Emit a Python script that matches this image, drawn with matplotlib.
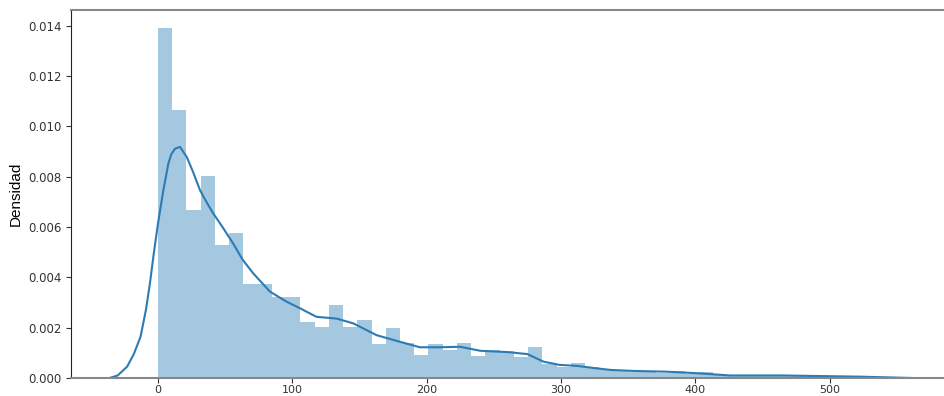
import numpy as np
import matplotlib
matplotlib.use('Agg')
import matplotlib.pyplot as plt

# histogram (density): 50 bins from 0 to 530
hist_start = 0
hist_end = 530
bar_heights = [0.01392, 0.01066, 0.00667, 0.00802, 0.00527, 0.00577, 0.00373, 0.00373,
               0.00323, 0.00323, 0.00223, 0.00204, 0.00290, 0.00204, 0.00230, 0.00135,
               0.00200, 0.00140, 0.00093, 0.00134, 0.00111, 0.00138, 0.00087, 0.00111,
               0.00108, 0.00085, 0.00124, 0.00054, 0.00045, 0.00060, 0.00042, 0.00030,
               0.00026, 0.00022, 0.00022, 0.00020, 0.00028, 0.00015, 0.00024, 0.00010,
               0.00008, 0.00008, 0.00006, 0.00008, 0.00006, 0.00006, 0.00008, 0.00004,
               0.00004, 0.00004]

# kde curve points
kde_x = [-36, -30, -23, -18, -13, -9, -6, -3, 0, 2, 4, 7.7, 10, 12.7, 16.4, 21.4, 26,
         31.3, 36, 41.2, 48, 56, 63, 71, 83.4, 95.8, 105.7, 118, 133, 145.4, 162.8,
         180, 195, 210, 225, 240, 260, 275, 287, 299, 312, 327, 337, 354, 379, 401,
         426, 465, 525, 561]
kde_y = [0, 0.0001, 0.00045, 0.00095, 0.00164, 0.0027, 0.00376, 0.0050, 0.00614,
         0.0068, 0.00746, 0.00852, 0.0089, 0.00911, 0.00918, 0.00878, 0.0082,
         0.00746, 0.0070, 0.00653, 0.0060, 0.00534, 0.0047, 0.00415, 0.00343,
         0.00303, 0.00277, 0.00243, 0.00236, 0.00217, 0.0017, 0.00144, 0.00122,
         0.00122, 0.00124, 0.00108, 0.00103, 0.00095, 0.00065, 0.00052, 0.00048,
         0.00038, 0.00032, 0.00028, 0.00025, 0.00019, 0.0001, 0.0001, 0.00005, 0]

edges = np.linspace(hist_start, hist_end, len(bar_heights) + 1)

fig = plt.figure(figsize=(9.45, 3.96), dpi=100)
ax = fig.add_axes([0.0751, 0.0455, 0.9249, 0.9305])

ax.bar(edges[:-1], bar_heights, width=np.diff(edges), align='edge',
       color='#1f77b4', alpha=0.4, linewidth=0)
ax.plot(kde_x, kde_y, color='#2c7bb3', lw=1.5, solid_joinstyle='round')

ax.set_xlim(-64.8, 586)
ax.set_ylim(0, 0.01464)
ax.set_xticks([0, 100, 200, 300, 400, 500])
ax.set_yticks(np.arange(0, 0.0141, 0.002))
ax.yaxis.set_major_formatter(matplotlib.ticker.FormatStrFormatter('%.3f'))
ax.tick_params(labelsize=8.5, length=3.5, width=0.8, colors='#333333', pad=3)
ax.tick_params(axis='x', pad=1.5, labelsize=8)

ax.set_ylabel('Densidad', fontsize=11, family=['Liberation Sans', 'DejaVu Sans'],
              labelpad=4)

ax.spines['right'].set_visible(False)
ax.spines['left'].set_color('#222222')
ax.spines['left'].set_linewidth(0.8)
ax.spines['bottom'].set_color('#888888')
ax.spines['bottom'].set_linewidth(1.5)
ax.spines['top'].set_color('#888888')
ax.spines['top'].set_linewidth(1.5)

plt.savefig('out.png', dpi=100)
